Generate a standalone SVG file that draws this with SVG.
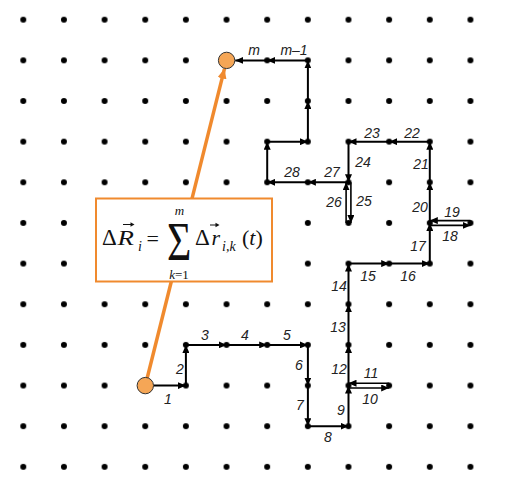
<svg xmlns="http://www.w3.org/2000/svg" width="518" height="484" viewBox="0 0 518 484">
<defs>
<style>
.dot{fill:#000}
.seg{stroke:#000;stroke-width:2;fill:none;marker-end:url(#ah)}
.dbl{stroke:#000;stroke-width:1.6;fill:none;marker-end:url(#ah)}
.lbl{font-family:"Liberation Sans",Arial,sans-serif;font-style:italic;font-size:14px;fill:#222;text-anchor:middle}
.eq{font-family:"Liberation Serif","Times New Roman",serif;fill:#111}
.end{fill:#F5A656;stroke:#333;stroke-width:1}
</style>
<marker id="ah" viewBox="0 0 8 7" refX="8" refY="3.5" markerWidth="8" markerHeight="7" markerUnits="userSpaceOnUse" orient="auto">
<path d="M0,0 L8,3.5 L0,7 Z" fill="#000"/>
</marker>
<marker id="oh" viewBox="0 0 10 9" refX="10" refY="4.5" markerWidth="10" markerHeight="9" markerUnits="userSpaceOnUse" orient="auto">
<path d="M0,0 L10,4.5 L0,9 Z" fill="#F08A2E"/>
</marker>
<pattern id="grid" x="23.3" y="19.7" width="40.65" height="40.65" patternUnits="userSpaceOnUse">
<circle cx="0" cy="0" r="3" class="dot"/><circle cx="40.65" cy="0" r="3" class="dot"/><circle cx="0" cy="40.65" r="3" class="dot"/><circle cx="40.65" cy="40.65" r="3" class="dot"/>
</pattern>
</defs>
<rect width="518" height="484" fill="#fff"/>
<g id="grid-dots">
<rect x="15" y="12" width="465" height="462" fill="url(#grid)"/>
</g>
<g id="resultant">
<line x1="145.3" y1="385.6" x2="224.5" y2="68.6" stroke="#F08A2E" stroke-width="3.5" marker-end="url(#oh)"/>
</g>
<g id="formula-box">
<rect x="96" y="198.5" width="176" height="83" fill="#fff" stroke="#F08A2E" stroke-width="2"/>
<text class="eq" x="102" y="245" font-size="23">Δ</text>
<text class="eq" x="0" y="0" font-size="22" font-style="italic" transform="translate(117.5,245) scale(1.22,1)">R</text>
<path d="M123,224.5 L132.5,224.5" stroke="#111" stroke-width="1"/>
<path d="M134.5,224.5 L130.5,222.3 L130.5,226.7 Z" fill="#111"/>
<text class="eq" x="138" y="251" font-size="14" font-style="italic">i</text>
<text class="eq" x="146.5" y="246" font-size="22">=</text>
<text class="eq" x="0" y="0" font-size="38" transform="translate(167,259.5) scale(1.1,1.42)">Σ</text>
<text class="eq" x="179.5" y="215" font-size="13" font-style="italic" text-anchor="middle">m</text>
<text class="eq" x="179" y="279" font-size="13" text-anchor="middle"><tspan font-style="italic">k</tspan>=1</text>
<text class="eq" x="195" y="245" font-size="23">Δ</text>
<text class="eq" x="211.5" y="245" font-size="22" font-style="italic">r</text>
<path d="M210,225 L217.5,225" stroke="#111" stroke-width="1"/>
<path d="M219.5,225 L215.5,222.8 L215.5,227.2 Z" fill="#111"/>
<text class="eq" x="222" y="251" font-size="14" font-style="italic">i,k</text>
<text class="eq" x="242" y="245" font-size="22">(<tspan font-style="italic">t</tspan>)</text>
</g>
<g id="connectors">
<line class="seg" x1="153.5" y1="385.6" x2="185.9" y2="385.6"/>
<line class="seg" x1="185.9" y1="385.6" x2="185.9" y2="344.9"/>
<line class="seg" x1="185.9" y1="344.9" x2="226.6" y2="344.9"/>
<line class="seg" x1="226.6" y1="344.9" x2="267.2" y2="344.9"/>
<line class="seg" x1="267.2" y1="344.9" x2="307.9" y2="344.9"/>
<line class="seg" x1="307.9" y1="344.9" x2="307.9" y2="385.6"/>
<line class="seg" x1="307.9" y1="385.6" x2="307.9" y2="426.2"/>
<line class="seg" x1="307.9" y1="426.2" x2="348.5" y2="426.2"/>
<line class="seg" x1="348.5" y1="426.2" x2="348.5" y2="385.6"/>
<line class="dbl" x1="348.5" y1="388" x2="389.2" y2="388"/>
<line class="dbl" x1="389.2" y1="383.2" x2="348.5" y2="383.2"/>
<line class="seg" x1="348.5" y1="385.6" x2="348.5" y2="344.9"/>
<line class="seg" x1="348.5" y1="344.9" x2="348.5" y2="304.3"/>
<line class="seg" x1="348.5" y1="304.3" x2="348.5" y2="263.6"/>
<line class="seg" x1="348.5" y1="263.6" x2="389.2" y2="263.6"/>
<line class="seg" x1="389.2" y1="263.6" x2="429.8" y2="263.6"/>
<line class="seg" x1="429.8" y1="263.6" x2="429.8" y2="223"/>
<line class="dbl" x1="429.8" y1="225.4" x2="470.5" y2="225.4"/>
<line class="dbl" x1="470.5" y1="220.6" x2="429.8" y2="220.6"/>
<line class="seg" x1="429.8" y1="223" x2="429.8" y2="182.3"/>
<line class="seg" x1="429.8" y1="182.3" x2="429.8" y2="141.7"/>
<line class="seg" x1="429.8" y1="141.7" x2="389.2" y2="141.7"/>
<line class="seg" x1="389.2" y1="141.7" x2="348.5" y2="141.7"/>
<line class="seg" x1="348.5" y1="141.7" x2="348.5" y2="182.3"/>
<line class="dbl" x1="350.9" y1="182.3" x2="350.9" y2="223"/>
<line class="dbl" x1="346.1" y1="223" x2="346.1" y2="182.3"/>
<line class="seg" x1="348.5" y1="182.3" x2="307.9" y2="182.3"/>
<line class="seg" x1="307.9" y1="182.3" x2="267.2" y2="182.3"/>
<line class="seg" x1="267.2" y1="182.3" x2="267.2" y2="141.7"/>
<line class="seg" x1="267.2" y1="141.7" x2="307.9" y2="141.7"/>
<line class="seg" x1="307.9" y1="141.7" x2="307.9" y2="101"/>
<line class="seg" x1="307.9" y1="101" x2="307.9" y2="60.4"/>
<line class="seg" x1="307.9" y1="60.4" x2="267.2" y2="60.4"/>
<line class="seg" x1="267.2" y1="60.4" x2="235.2" y2="60.4"/>
</g>
<g id="start-node"><circle cx="145.3" cy="385.6" r="8.2" class="end"/></g>
<g id="end-node"><circle cx="226.6" cy="60.4" r="8.2" class="end"/></g>
<g id="labels">
<text class="lbl" x="168" y="404">1</text>
<text class="lbl" x="180" y="374">2</text>
<text class="lbl" x="205" y="340">3</text>
<text class="lbl" x="245" y="340">4</text>
<text class="lbl" x="287" y="340">5</text>
<text class="lbl" x="299" y="370">6</text>
<text class="lbl" x="300" y="410">7</text>
<text class="lbl" x="328" y="442">8</text>
<text class="lbl" x="341" y="415">9</text>
<text class="lbl" x="370" y="404">10</text>
<text class="lbl" x="371" y="378">11</text>
<text class="lbl" x="339" y="374">12</text>
<text class="lbl" x="338" y="332">13</text>
<text class="lbl" x="339" y="291">14</text>
<text class="lbl" x="368" y="281">15</text>
<text class="lbl" x="408" y="281">16</text>
<text class="lbl" x="418" y="251">17</text>
<text class="lbl" x="450" y="241">18</text>
<text class="lbl" x="452" y="217">19</text>
<text class="lbl" x="420" y="212">20</text>
<text class="lbl" x="421" y="169">21</text>
<text class="lbl" x="412" y="138">22</text>
<text class="lbl" x="372" y="138">23</text>
<text class="lbl" x="363" y="167">24</text>
<text class="lbl" x="364" y="206">25</text>
<text class="lbl" x="334" y="207">26</text>
<text class="lbl" x="332" y="177">27</text>
<text class="lbl" x="292" y="177">28</text>
<text class="lbl" x="294" y="55">m–1</text>
<text class="lbl" x="254" y="55">m</text>
</g>
</svg>
